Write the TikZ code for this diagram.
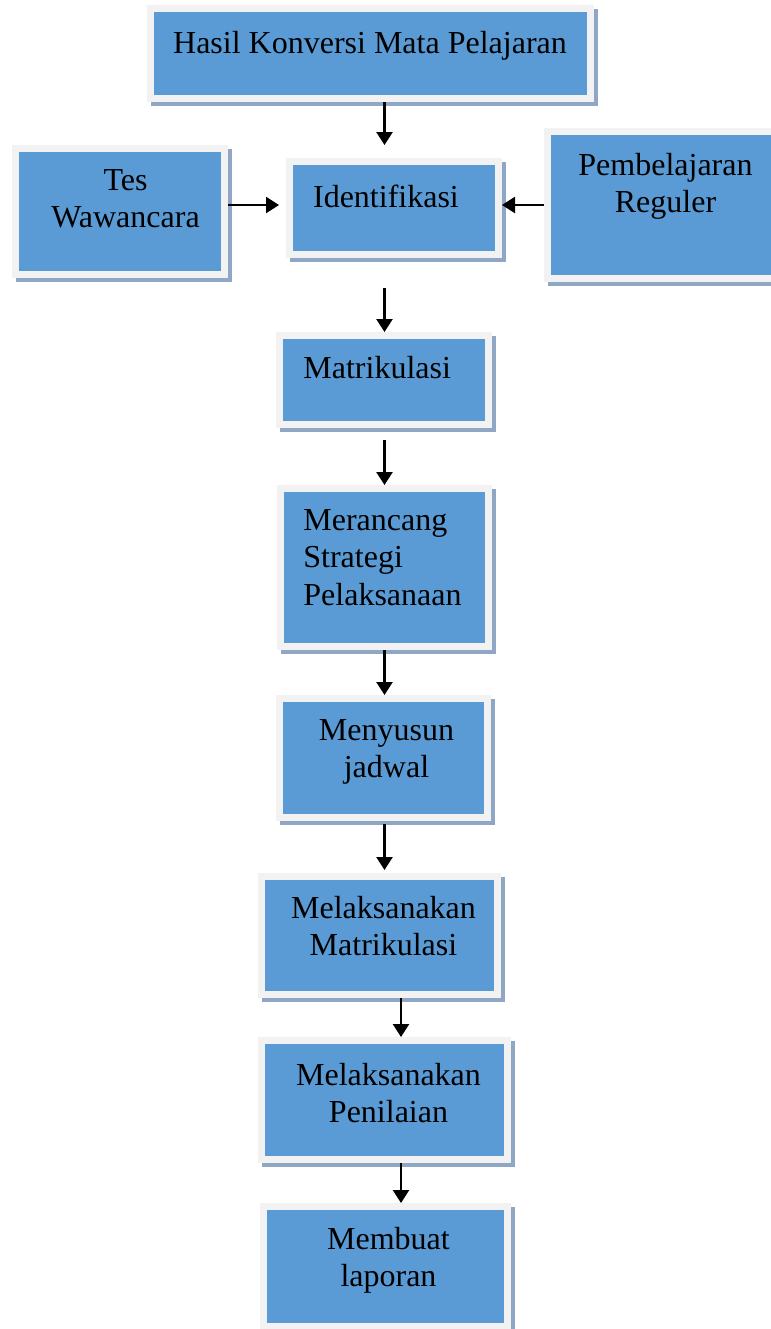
\documentclass[tikz,border=0pt]{standalone}
\usepackage{fontspec}
\setmainfont{Liberation Serif}
\usetikzlibrary{arrows.meta,shadows}
\definecolor{biru}{RGB}{91,155,213}
\definecolor{bingkai}{RGB}{242,242,242}
\definecolor{bayang}{RGB}{143,166,196}
\tikzset{
	kotak/.style={draw=bingkai, fill=biru, line width=3.5pt, inner sep=0pt,
		general shadow={draw=bayang, fill=bayang, line width=3.5pt, shadow xshift=2pt, shadow yshift=-2pt}},
	teks/.style={inner sep=0pt, font=\fontsize{16}{18.75}\selectfont},
	duabaris/.style={teks, text width=150pt, align=center, anchor=base},
	panah/.style={-{Triangle[width=8pt,length=6.5pt]}, line width=1.2pt}
}
\begin{document}
\begin{tikzpicture}[x=0.5pt,y=-0.5pt]
	\useasboundingbox (0,0) rectangle (771,1329);
	\coordinate (poros) at (384.5,0);
	\coordinate (poros2) at (401,0);
	\coordinate (baris) at (0,205);
	\node[kotak, minimum width=220pt, minimum height=45pt] (hasil) at (370.5,53.5) {};
	\node[kotak, minimum width=104.5pt, minimum height=63pt] (tes) at (120,211.5) {};
	\node[kotak, minimum width=104.5pt, minimum height=46.5pt] (ident) at (394,208) {};
	\node[kotak, minimum width=119.5pt, minimum height=73.5pt] (reguler) at (667,205) {};
	\node[kotak, minimum width=104.5pt, minimum height=44.5pt] (matrik) at (384,380) {};
	\node[kotak, minimum width=104pt, minimum height=79pt] (rancang) at (384.5,567.5) {};
	\node[kotak, minimum width=104pt, minimum height=59.5pt] (susun) at (383.5,758) {};
	\node[kotak, minimum width=118pt, minimum height=59pt] (laksmat) at (379.5,935.5) {};
	\node[kotak, minimum width=123pt, minimum height=59.5pt] (nilai) at (384.5,1100) {};
	\node[kotak, minimum width=122pt, minimum height=60pt] (laporan) at (385.5,1266.5) {};
	\node[teks, anchor=base] (hasilT) at (370,53) {Hasil Konversi Mata Pelajaran};
	\node[duabaris] (tesT) at (125.5,190) {Tes\\Wawancara};
	\node[teks, anchor=base] (identT) at (386,207) {Identifikasi};
	\node[duabaris] (regulerT) at (665.5,175) {Pembelajaran\\Reguler};
	\node[teks, anchor=base west] (matrikT) at (303,378) {Matrikulasi};
	\node[teks, text width=150pt, align=left, anchor=base west] (rancangT) at (303,530) {Merancang\\Strategi\\Pelaksanaan};
	\node[duabaris] (susunT) at (386.5,740) {Menyusun\\jadwal};
	\node[duabaris] (laksmatT) at (383.5,918) {Melaksanakan\\Matrikulasi};
	\node[duabaris] (nilaiT) at (388.5,1085) {Melaksanakan\\Penilaian};
	\node[duabaris] (laporanT) at (388.5,1249) {Membuat\\laporan};
	\draw[panah, shorten >=6.5pt] (hasil.south -| poros) -- (ident.north -| poros);
	\draw[panah, shorten >=3.5pt] (tes.east |- baris) -- (ident.west |- baris);
	\draw[panah] (reguler.west |- baris) -- (ident.east |- baris);
	\draw[panah, shorten <=15pt] (ident.south -| poros) -- (matrik.north -| poros);
	\draw[panah, shorten <=6pt] (matrik.south -| poros) -- (rancang.north -| poros);
	\draw[panah] (rancang.south -| poros) -- (susun.north -| poros);
	\draw[panah, shorten <=1.5pt, shorten >=1.5pt] (susun.south -| poros) -- (laksmat.north -| poros);
	\draw[panah] (laksmat.south -| poros2) -- (nilai.north -| poros2);
	\draw[panah] (nilai.south -| poros2) -- (laporan.north -| poros2);
\end{tikzpicture}
\end{document}
